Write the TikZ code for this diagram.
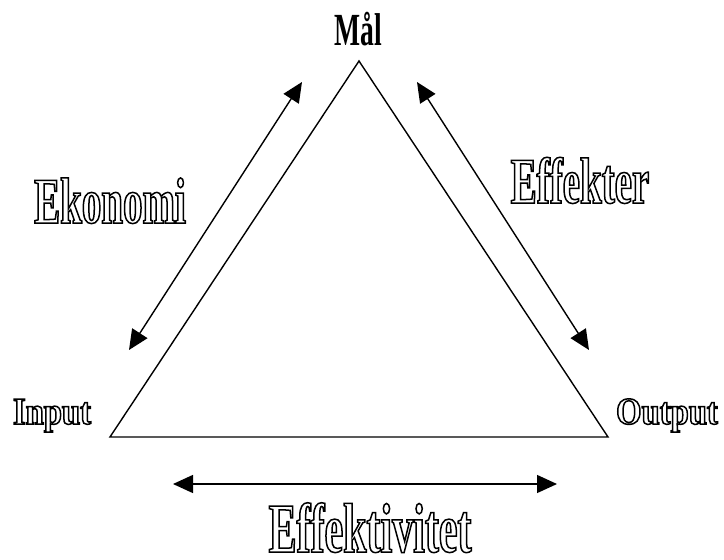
\documentclass[tikz,border=0pt]{standalone}
\usepackage{fontspec}
\setmainfont{Liberation Serif}
\newfontfamily\condfont[FakeStretch=0.6]{Liberation Serif Bold}
\newfontfamily\midfont[FakeStretch=0.86]{Liberation Serif Bold}
\usetikzlibrary{arrows.meta}
\tikzset{
  tri/.style={line width=1.4pt, line join=miter},
  dblarrow/.style={line width=1.4pt, {Triangle[length=20pt,width=18pt]}-{Triangle[length=20pt,width=18pt]}},
  bigtxt/.style={anchor=base, inner sep=0pt, text depth=0pt, font=\condfont\fontsize{65}{70}\selectfont},
  smalltxt/.style={anchor=base, inner sep=0pt, font=\midfont\fontsize{38}{42}\selectfont},
}
\newcommand{\hollow}[1]{\special{pdf:literal direct 1 Tr 1.5 w}#1\special{pdf:literal direct 0 Tr}}
\begin{document}
\begin{tikzpicture}[x=1pt,y=-1pt]
\useasboundingbox (0,0) rectangle (724,560);
\coordinate (top) at (359,61);
\coordinate (bl) at (110,437);
\coordinate (br) at (608,437);
\draw[tri] (bl) -- (top) -- (br) -- cycle;
\coordinate (la) at (129,350);
\coordinate (lb) at (302,82);
\coordinate (ra) at (417,82);
\coordinate (rb) at (589,350);
\coordinate (ba) at (173,484);
\coordinate (bb) at (557,484);
\draw[dblarrow] (la) -- (lb);
\draw[dblarrow] (ra) -- (rb);
\draw[dblarrow] (ba) -- (bb);
\node[anchor=base, inner sep=0pt, font=\condfont\fontsize{46}{50}\selectfont] (mal) at (358,45) {Mål};
\node[bigtxt] (ekonomi) at (110,223) {\hollow{Ekonomi}};
\node[bigtxt] (effekter) at (580,203) {\hollow{Effekter}};
\node[bigtxt, font=\condfont\fontsize{70}{74}\selectfont] (effektivitet) at (370,552) {\hollow{Effektivitet}};
\node[smalltxt] (input) at (52,424) {\hollow{Input}};
\node[smalltxt] (output) at (667,424) {\hollow{Output}};
\end{tikzpicture}
\end{document}
